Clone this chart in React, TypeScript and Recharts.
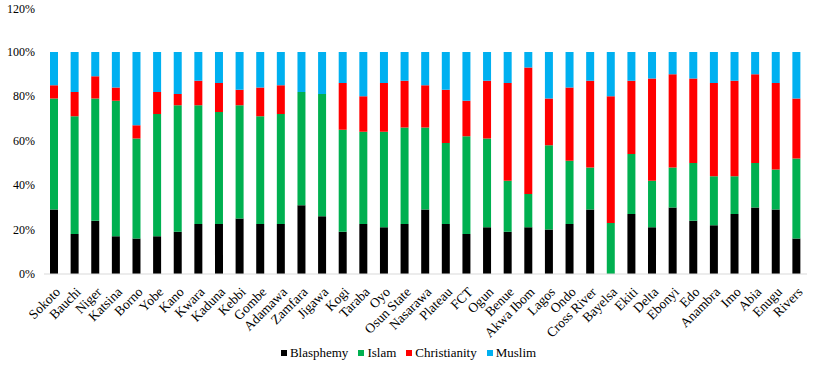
import React from "react";
import { BarChart, Bar, XAxis, YAxis, Legend } from "recharts";

const states = ["Sokoto","Bauchi","Niger","Katsina","Borno","Yobe","Kano","Kwara","Kaduna","Kebbi","Gombe","Adamawa","Zamfara","Jigawa","Kogi","Taraba","Oyo","Osun State","Nasarawa","Plateau","FCT","Ogun","Benue","Akwa Ibom","Lagos","Ondo","Cross River","Bayelsa","Ekiti","Delta","Ebonyi","Edo","Anambra","Imo","Abia","Enugu","Rivers"];
const blasphemy =    [29,18,24,17,16,17,19,22.5,22.5,25,22.5,22.5,31,26,19,22.5,21,22.5,29,22.5,18,21,19,21,20,22.5,29,0,27,21,30,24,22,27,30,29,16];
const islam =        [50,53,55,61,45,55,57,53.5,50.5,51,48.5,49.5,51,55,46,41.5,43,43.5,37,36.5,44,40,23,15,38,28.5,19,23,27,21,18,26,22,17,20,18,36];
const christianity = [6,11,10,6,6,10,5,11,13,7,13,13,0,0,21,16,22,21,19,24,16,26,44,57,21,33,39,57,33,46,42,38,42,43,40,39,27];
const muslim =       [15,18,11,16,33,18,19,13,14,17,16,15,18,19,14,20,14,13,15,17,22,13,14,7,21,16,13,20,13,12,10,12,14,13,10,14,21];
const yTicks = [0,20,40,60,80,100,120];

const seriesNames = ["Blasphemy","Islam","Christianity","Muslim"];
const seriesKeys = ["blasphemy","islam","christianity","muslim"];
const seriesColors = ["#000000","#00B050","#FF0000","#00B0F0"];

const SERIF = "Liberation Serif, Times New Roman, serif";

const data = states.map((s, i) => ({
  state: s,
  blasphemy: blasphemy[i],
  islam: islam[i],
  christianity: christianity[i],
  muslim: muslim[i],
}));

const XTick = (props: any) => {
  const { x, y, payload } = props;
  return (
    <g transform={`translate(${x + 4},${y + 8})`}>
      <text
        transform="rotate(-45)"
        textAnchor="end"
        dy={4}
        style={{ fontFamily: SERIF }}
        fontSize={13.5}
        fill="#000"
      >
        {payload.value}
      </text>
    </g>
  );
};

const YTick = (props: any) => {
  const { x, y, payload } = props;
  return (
    <text
      x={x - 1}
      y={y}
      dy={4}
      textAnchor="end"
      style={{ fontFamily: SERIF }}
      fontSize={12}
      fill="#000"
    >
      {`${payload.value}%`}
    </text>
  );
};

const LegendContent = () => (
  <div style={{ display: "flex", justifyContent: "center", alignItems: "center", fontFamily: SERIF, fontSize: 13, color: "#000" }}>
    {seriesNames.map((n, i) => (
      <div key={n} style={{ display: "flex", alignItems: "center", marginRight: i < 3 ? 10 : 0 }}>
        <span style={{ display: "inline-block", width: 6, height: 6, background: seriesColors[i], marginRight: 3 }} />
        <span style={{ fontFamily: SERIF }}>{n}</span>
      </div>
    ))}
  </div>
);

export default function App() {
  return (
    <div style={{ position: "absolute", left: 0, top: 0, background: "#fff", fontFamily: SERIF }}>
      <BarChart
        width={817}
        height={368}
        data={data}
        margin={{ top: 7.5, right: 10, bottom: 0, left: 0 }}
        barCategoryGap={0}
      >
        <XAxis
          dataKey="state"
          interval={0}
          height={94}
          tickLine={false}
          axisLine={{ stroke: "#d9d9d9", strokeWidth: 1 }}
          tick={<XTick />}
        />
        <YAxis
          width={44}
          domain={[0, 120]}
          ticks={yTicks}
          axisLine={false}
          tickLine={false}
          tickMargin={2}
          tick={<YTick />}
          allowDataOverflow
        />
        <Legend
          layout="horizontal"
          verticalAlign="middle"
          align="center"
          wrapperStyle={{ position: "absolute", top: 345, left: 0, width: 817 }}
          content={<LegendContent />}
        />
        {seriesKeys.map((k, i) => (
          <Bar
            key={k}
            dataKey={k}
            name={seriesNames[i]}
            stackId="a"
            fill={seriesColors[i]}
            barSize={8}
            isAnimationActive={false}
          />
        ))}
      </BarChart>
    </div>
  );
}
